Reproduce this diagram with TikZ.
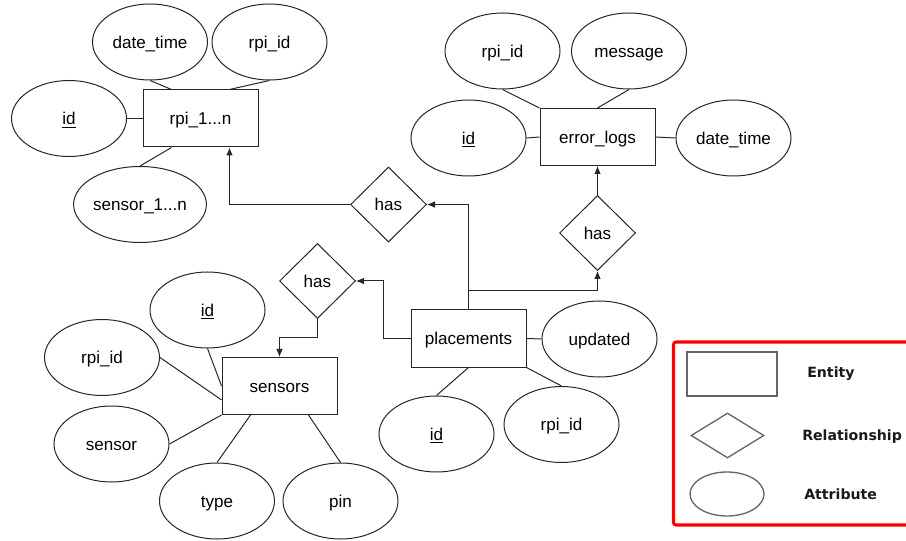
\documentclass[tikz,border=0pt]{standalone}
\usepackage{fontspec}
\setmainfont{Liberation Sans}
\newfontfamily\legendfont{DejaVu Sans}
\usetikzlibrary{shapes.geometric,arrows.meta,calc}
\begin{document}
\begin{tikzpicture}[x=0.75pt,y=-0.75pt,
  every node/.style={font=\fontsize{12.8}{15}\selectfont, inner sep=0pt},
  txt/.style={text height=10pt, text depth=0.3pt},
  ent/.style={txt, draw=black!85, line width=0.75pt, rectangle, minimum width=115*0.75pt, minimum height=57*0.75pt},
  attr/.style={txt, draw=black!85, line width=0.75pt, ellipse, minimum width=115*0.75pt, minimum height=76*0.75pt},
  rel/.style={txt, draw=black!85, line width=0.75pt, diamond, minimum width=76*0.75pt, minimum height=75*0.75pt},
  link/.style={draw=black!85, line width=0.75pt},
  arr/.style={link, -{Latex[length=6pt,width=5pt]}},
  lgshape/.style={draw=black!60, line width=1pt},
  lgtext/.style={anchor=west, text=black!90, font=\legendfont\bfseries\fontsize{10.6}{12}\selectfont}]
\useasboundingbox (0,0) rectangle (906,541);

% rpi_1...n
\node[ent] (rpi) at (200.5,118.5) {rpi\_1...n};
\node[attr] (rpidt) at (150,42) {date\_time};
\node[attr] (rpiid) at (269.5,42) {rpi\_id};
\node[attr] (rpikey) at (69,118.5) {\underline{id}};
\node[attr] (rpisen) at (140,204.5) {sensor\_1...n};
\draw[link] (rpidt.south) -- ($(rpi.north west)!0.25!(rpi.north east)$);
\draw[link] (rpiid.south) -- ($(rpi.north west)!0.75!(rpi.north east)$);
\draw[link] (rpikey.east) -- (rpi.west);
\draw[link] (rpisen.north) -- ($(rpi.south west)!0.25!(rpi.south east)$);

% error_logs
\node[ent] (elog) at (597.5,137) {error\_logs};
\node[attr] (elrpi) at (502.5,51) {rpi\_id};
\node[attr] (elmsg) at (629,51) {message};
\node[attr] (elkey) at (468.5,138) {\underline{id}};
\node[attr] (eldt) at (733.5,138) {date\_time};
\draw[link] (elrpi.south) -- (elog.north west);
\draw[link] (elmsg.south) -- (elog.north);
\draw[link] (elkey.east) -- (elog.west);
\draw[link] (elog.east) -- (eldt.west);

% placements
\node[ent] (pl) at (468.5,338.5) {placements};
\node[attr] (plupd) at (599.5,339) {updated};
\node[attr] (plkey) at (436.5,434) {\underline{id}};
\node[attr] (plrpi) at (561.5,424.5) {rpi\_id};
\draw[link] (plkey.north) -- (pl.south);
\draw[link] (pl.south east) -- (plrpi.north);
\draw[link] (pl.east) -- (plupd.west);

% sensors
\node[ent] (se) at (279.5,386) {sensors};
\node[attr] (sekey) at (207.5,310) {\underline{id}};
\node[attr] (serpi) at (102,357.5) {rpi\_id};
\node[attr] (sesen) at (111.5,444) {sensor};
\node[attr] (setype) at (217,501) {type};
\node[attr] (sepin) at (340.5,501) {pin};
\draw[link] (sekey.south) -- (se.west);
\draw[link] (serpi.east) -- ($(se.north west)!0.74!(se.south west)$);
\draw[link] (sesen.east) -- (se.south west);
\draw[link] (setype.north) -- ($(se.south west)!0.25!(se.south east)$);
\draw[link] (sepin.north) -- ($(se.south west)!0.75!(se.south east)$);

% relationships
\node[rel] (hasR) at (597.5,233) {has};
\node[rel] (hasM) at (388.5,204.5) {has};
\node[rel] (hasL) at (317.5,281) {has};
\coordinate (jR) at (468.5,291);
\coordinate (jL) at (383,338.5);
\coordinate (jS) at (317.5,338);
\coordinate (rpiB) at ($(rpi.south west)!0.75!(rpi.south east)$);
\draw[arr] (hasR.north) -- (elog.south);
\draw[arr] (jR) -| (hasR.south);
\draw[arr] (pl.north) |- (hasM.east);
\draw[arr] (hasM.west) -| (rpiB);
\draw[arr] (pl.west) -- (jL) |- (hasL.east);
\draw[arr] (hasL.south) -- (jS) -| (se.north);

% legend
\begin{scope}
\clip (0,0) rectangle (906,541);
\draw[red, line width=2.3pt, rounded corners=2pt] (920,342) -- (673.5,342) -- (673.5,525) -- (920,525);
\end{scope}
\node[lgshape, rectangle, minimum width=90*0.75pt, minimum height=44*0.75pt] (lgent) at (732,374) {};
\node[lgshape, diamond, minimum width=73*0.75pt, minimum height=45*0.75pt] (lgrel) at (727.5,435.5) {};
\node[lgshape, ellipse, minimum width=74*0.75pt, minimum height=44*0.75pt] (lgattr) at (727,494) {};
\node[lgtext] (lgenttxt) at (807,374) {Entity};
\node[lgtext] (lgreltxt) at (802,437) {Relationship};
\node[lgtext] (lgattrtxt) at (804,494) {Attribute};
\end{tikzpicture}
\end{document}
